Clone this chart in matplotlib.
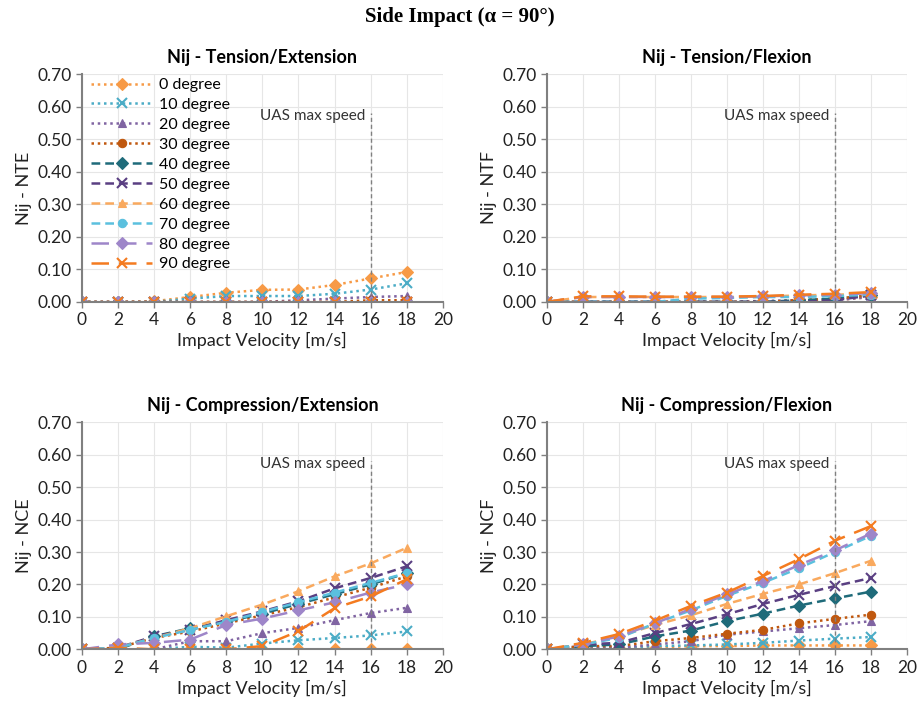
import numpy as np
import matplotlib.pyplot as plt

plt.rcParams['font.family'] = ['Lato', 'DejaVu Sans']

# ---- Data ----
velocity = [0, 2, 4, 6, 8, 10, 12, 14, 16, 18]
labels = ['0 degree', '10 degree', '20 degree', '30 degree', '40 degree',
          '50 degree', '60 degree', '70 degree', '80 degree', '90 degree']

# Nij - Tension/Extension (NTE)
nte = [
    [0, 0, 0.002, 0.015, 0.028, 0.037, 0.038, 0.052, 0.072, 0.092],
    [0, 0, 0, 0.010, 0.018, 0.018, 0.018, 0.025, 0.038, 0.057],
    [0, 0, 0, 0, 0, 0, 0.005, 0.010, 0.015, 0.018],
    [0, 0, 0, 0, 0, 0, 0, 0, 0.005, 0.005],
    [0, 0, 0, 0, 0, 0, 0, 0, 0, 0],
    [0, 0, 0, 0, 0, 0, 0, 0, 0, 0],
    [0, 0, 0, 0, 0, 0, 0, 0, 0, 0],
    [0, 0, 0, 0, 0, 0, 0, 0, 0, 0],
    [0, 0, 0, 0, 0, 0, 0, 0, 0, 0],
    [0, 0, 0, 0, 0, 0, 0, 0, 0, 0],
]

# Nij - Tension/Flexion (NTF)
ntf = [
    [0, 0, 0, 0, 0, 0, 0, 0, 0.005, 0.015],
    [0, 0, 0, 0, 0, 0, 0, 0.005, 0.010, 0.020],
    [0, 0, 0, 0, 0, 0, 0.003, 0.005, 0.005, 0.015],
    [0, 0, 0, 0, 0, 0, 0, 0.005, 0.010, 0.020],
    [0, 0, 0, 0, 0, 0, 0, 0.005, 0.010, 0.020],
    [0, 0, 0, 0, 0, 0, 0, 0, 0.005, 0.020],
    [0, 0.015, 0.015, 0.015, 0.015, 0.015, 0.016, 0.020, 0.022, 0.025],
    [0, 0, 0, 0, 0.010, 0.012, 0.015, 0.015, 0.018, 0.022],
    [0, 0.015, 0.015, 0.015, 0.015, 0.015, 0.017, 0.020, 0.022, 0.027],
    [0, 0.017, 0.017, 0.016, 0.016, 0.016, 0.018, 0.022, 0.025, 0.030],
]

# Nij - Compression/Extension (NCE)
nce = [
    [0, 0, 0, 0, 0, 0, 0, 0, 0, 0],
    [0, 0, 0, 0.008, 0.005, 0.018, 0.028, 0.035, 0.043, 0.055],
    [0, 0, 0, 0.025, 0.025, 0.050, 0.066, 0.090, 0.112, 0.128],
    [0, 0.005, 0.035, 0.055, 0.080, 0.105, 0.130, 0.160, 0.190, 0.225],
    [0, 0, 0.040, 0.065, 0.085, 0.110, 0.140, 0.170, 0.200, 0.235],
    [0, 0.005, 0.040, 0.060, 0.090, 0.117, 0.148, 0.188, 0.220, 0.256],
    [0, 0.005, 0.035, 0.065, 0.102, 0.138, 0.179, 0.225, 0.265, 0.313],
    [0, 0.005, 0.035, 0.060, 0.085, 0.115, 0.145, 0.175, 0.205, 0.235],
    [0, 0.015, 0.020, 0.030, 0.075, 0.095, 0.120, 0.145, 0.175, 0.200],
    [0, 0.005, 0, 0, 0, 0.010, 0.056, 0.127, 0.163, 0.216],
]

# Nij - Compression/Flexion (NCF)
ncf = [
    [0, 0.005, 0.005, 0.005, 0.010, 0.010, 0.012, 0.012, 0.012, 0.012],
    [0, 0.005, 0.005, 0.010, 0.012, 0.015, 0.020, 0.027, 0.033, 0.038],
    [0, 0.010, 0.005, 0.015, 0.025, 0.045, 0.055, 0.065, 0.075, 0.087],
    [0, 0.010, 0.010, 0.025, 0.035, 0.048, 0.060, 0.080, 0.094, 0.107],
    [0, 0.010, 0.015, 0.040, 0.058, 0.087, 0.110, 0.135, 0.157, 0.178],
    [0, 0.015, 0.020, 0.050, 0.078, 0.108, 0.140, 0.168, 0.195, 0.220],
    [0, 0.015, 0.040, 0.075, 0.105, 0.140, 0.171, 0.200, 0.235, 0.273],
    [0, 0.015, 0.035, 0.080, 0.120, 0.165, 0.205, 0.250, 0.300, 0.350],
    [0, 0.015, 0.040, 0.080, 0.125, 0.170, 0.210, 0.260, 0.305, 0.357],
    [0, 0.020, 0.047, 0.088, 0.134, 0.175, 0.226, 0.278, 0.335, 0.380],
]

colors = ['#F79A46', '#4BACC6', '#8064A2', '#C0580F', '#1F6B7A',
          '#5A3F82', '#F9A95E', '#5BC0DE', '#9E86C9', '#F47B20']
markers = ['D', 'x', '^', 'o', 'D', 'x', '^', 'o', 'D', 'x']
styles = [(0, (1, 1.5))] * 4 + [(0, (3.5, 2))] * 4 + [(0, (7, 4))] * 2

panels = [
    (nte, 'Nij - Tension/Extension', 'Nij - NTE'),
    (ntf, 'Nij - Tension/Flexion', 'Nij - NTF'),
    (nce, 'Nij - Compression/Extension', 'Nij - NCE'),
    (ncf, 'Nij - Compression/Flexion', 'Nij - NCF'),
]

fig = plt.figure(figsize=(9.19, 7.12), dpi=100)
positions = [
    [0.089, 0.576, 0.393, 0.320],
    [0.595, 0.576, 0.392, 0.320],
    [0.089, 0.088, 0.393, 0.319],
    [0.595, 0.088, 0.392, 0.319],
]

for i, (data, title, ylabel) in enumerate(panels):
    ax = fig.add_axes(positions[i])
    for k in range(10):
        ms = 7 if markers[k] == 'x' else 6
        ax.plot(velocity, data[k], color=colors[k], linestyle=styles[k],
                linewidth=1.8, marker=markers[k], markersize=ms,
                markeredgewidth=1.5 if markers[k] == 'x' else 0.8,
                label=labels[k])
    ax.plot([16, 16], [0, 0.58], color='#808080', linestyle=(0, (3, 2)),
            linewidth=1)
    ax.text(15.7, 0.57, 'UAS max speed', ha='right', va='center',
            fontsize=11, color='#333333')
    ax.set_xlim(0, 20)
    ax.set_ylim(0, 0.70)
    ax.set_xticks(np.arange(0, 21, 2))
    ax.set_yticks(np.arange(0, 0.71, 0.1))
    ax.set_yticklabels([f'{v:.2f}' for v in np.arange(0, 0.71, 0.1)])
    ax.grid(True, color='#E6E6E6', linewidth=0.8)
    ax.set_axisbelow(True)
    for s in ['top', 'right']:
        ax.spines[s].set_visible(False)
    for s in ['left', 'bottom']:
        ax.spines[s].set_color('#808080')
        ax.spines[s].set_linewidth(1.5)
    ax.tick_params(axis='both', labelsize=12.5, color='#808080', length=4,
                   width=1, labelcolor='#222222')
    ax.set_xlabel('Impact Velocity [m/s]', fontsize=13, color='#222222',
                  labelpad=3)
    ax.set_ylabel(ylabel, fontsize=13, color='#222222', labelpad=4)
    ax.set_title(title, fontsize=13, fontweight='bold', pad=8)
    if i == 0:
        ax.legend(loc='upper left', bbox_to_anchor=(0.0, 1.025), frameon=False,
                  fontsize=11.5, handlelength=3.8, handletextpad=0.45,
                  labelspacing=0.36, borderaxespad=0.2)

fig.suptitle('Side Impact (α = 90°)', fontsize=15, fontweight='bold',
             family=['Liberation Serif', 'DejaVu Serif'], y=0.99)

plt.savefig('out.png', dpi=100)
